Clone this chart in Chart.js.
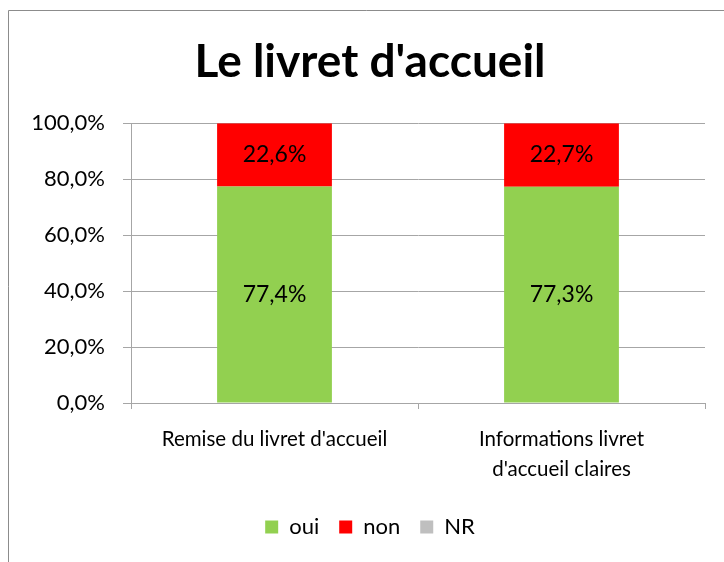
<!DOCTYPE html>
<html>
<head>
<meta charset="utf-8">
<script src="https://cdn.jsdelivr.net/npm/chart.js@4.4.1/dist/chart.umd.min.js"></script>
<style>
  body { margin: 0; background: #fff; }
</style>
</head>
<body>
<canvas id="livret" width="724" height="562"></canvas>
<script>
  var categories = ["Remise du livret d'accueil", ["Informations livret", "d'accueil claires"]];
  var oui = [77.4, 77.3];
  var non = [22.6, 22.7];
  var nr = [0, 0];
  var yTicks = [0, 20, 40, 60, 80, 100];

  var police = 'Lato, "Open Sans", sans-serif';

  function pct(v) {
    return v.toFixed(1).replace('.', ',') + '%';
  }

  // cadre gris autour du graphique (coupé à droite et en bas)
  var cadre = {
    id: 'cadre',
    beforeDraw: function (chart) {
      var ctx = chart.ctx;
      ctx.save();
      ctx.fillStyle = '#fff';
      ctx.fillRect(0, 0, chart.width, chart.height);
      ctx.strokeStyle = '#8C8C8C';
      ctx.lineWidth = 1;
      ctx.beginPath();
      ctx.moveTo(8.5, chart.height);
      ctx.lineTo(8.5, 10.5);
      ctx.lineTo(chart.width, 10.5);
      ctx.stroke();
      ctx.restore();
    }
  };

  // etiquettes de valeurs au centre des segments
  var etiquettes = {
    id: 'etiquettes',
    afterDatasetsDraw: function (chart) {
      var ctx = chart.ctx;
      ctx.save();
      ctx.font = '23px ' + police;
      ctx.fillStyle = '#000';
      ctx.textAlign = 'center';
      ctx.textBaseline = 'middle';
      chart.data.datasets.forEach(function (ds, i) {
        var meta = chart.getDatasetMeta(i);
        meta.data.forEach(function (bar, j) {
          var v = ds.data[j];
          if (!v) { return; }
          ctx.fillText(pct(v), bar.x, (bar.y + bar.base) / 2);
        });
      });
      ctx.restore();
    }
  };

  var ctx = document.getElementById('livret');

  new Chart(ctx, {
    type: 'bar',
    data: {
      labels: categories,
      datasets: [
        { label: 'oui', data: oui, backgroundColor: '#92D050' },
        { label: 'non', data: non, backgroundColor: '#FF0000' },
        { label: 'NR', data: nr, backgroundColor: '#BFBFBF' }
      ]
    },
    options: {
      responsive: false,
      animation: false,
      barPercentage: 0.4,
      categoryPercentage: 1,
      layout: {
        padding: { left: 16, right: 0, top: 0, bottom: 14 }
      },
      plugins: {
        tooltip: { enabled: false },
        title: {
          display: true,
          text: "Le livret d'accueil",
          color: '#000',
          font: { family: police, size: 46, weight: 'bold' },
          padding: { top: 35, bottom: 33 }
        },
        legend: {
          position: 'bottom',
          labels: {
            color: '#000',
            boxWidth: 13,
            boxHeight: 13,
            padding: 20,
            font: { family: police, size: 22 }
          }
        }
      },
      scales: {
        x: {
          stacked: true,
          grid: {
            offset: true,
            drawOnChartArea: false,
            drawTicks: true,
            tickLength: 6,
            color: '#A6A6A6'
          },
          border: { color: '#A6A6A6' },
          ticks: {
            color: '#000',
            padding: 15,
            maxRotation: 0,
            font: { family: police, size: 20.5, lineHeight: 1.46 }
          },
          afterFit: function (s) { s.height = 93; }
        },
        y: {
          stacked: true,
          min: 0,
          max: 100,
          afterBuildTicks: function (s) {
            s.ticks = yTicks.map(function (v) { return { value: v }; });
          },
          grid: {
            color: '#A6A6A6',
            tickLength: 8
          },
          border: { color: '#A6A6A6' },
          ticks: {
            color: '#000',
            padding: 18,
            font: { family: police, size: 22 },
            callback: function (v) { return pct(v); }
          },
          afterFit: function (s) { s.width = 115; }
        },
        droite: {
          position: 'right',
          grid: { display: false },
          border: { display: false },
          ticks: { display: false },
          afterFit: function (s) { s.width = 19; }
        }
      }
    },
    plugins: [cadre, etiquettes]
  });
</script>
</body>
</html>
